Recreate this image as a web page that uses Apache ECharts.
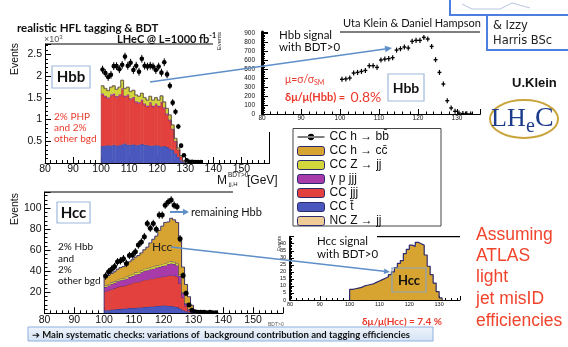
<!DOCTYPE html>
<html>
<head>
<meta charset="utf-8">
<script src="https://cdn.jsdelivr.net/npm/echarts@6/dist/echarts.min.js"></script>
<style>
html,body{margin:0;padding:0;background:#fff;}
#c{width:568px;height:347px;}
</style>
</head>
<body>
<div id="c"></div>
<script>
// ---------- Hbb selection: stacked backgrounds, 10^3 events per 1 GeV bin ----------
const BIN = 1;
const hbbBins   = [100.5,101.5,102.5,103.5,104.5,105.5,106.5,107.5,108.5,109.5,110.5,111.5,112.5,113.5,114.5,115.5,116.5,117.5,118.5,119.5,120.5,121.5,122.5,123.5,124.5,125.5,126.5,127.5,128.5,129.5];
const hbbCCt    = [0.39,0.40,0.41,0.40,0.42,0.40,0.41,0.43,0.45,0.42,0.42,0.43,0.41,0.42,0.44,0.42,0.41,0.40,0.40,0.41,0.40,0.38,0.39,0.37,0.33,0.30,0.22,0.14,0.06,0.02];
const hbbCCjjj  = [1.18,1.12,1.07,1.15,1.15,1.11,1.14,1.26,1.07,1.13,1.04,1.06,0.98,0.95,0.99,0.92,0.88,0.97,0.89,0.93,0.89,1.00,0.86,0.74,0.64,0.47,0.27,0.16,0.08,0.02];
const hbbGpjjj  = [0.03,0.03,0.03,0.03,0.03,0.03,0.03,0.03,0.03,0.03,0.03,0.03,0.03,0.03,0.03,0.03,0.03,0.03,0.03,0.03,0.03,0.03,0.03,0.03,0.03,0.02,0.02,0.01,0.01,0];
const hbbZjj    = [0.17,0.16,0.15,0.16,0.17,0.15,0.16,0.18,0.16,0.16,0.15,0.15,0.14,0.13,0.14,0.13,0.12,0.13,0.12,0.13,0.12,0.13,0.12,0.11,0.10,0.08,0.05,0.03,0.02,0.01];
const hbbHcc    = [0.01,0.01,0.01,0.01,0.01,0.01,0.01,0.01,0.01,0.01,0.01,0.01,0.01,0.01,0.01,0.01,0.01,0.01,0.01,0.01,0.01,0.01,0.01,0.01,0.01,0.01,0.01,0.01,0,0];
// points (CC h -> bb marker) with error half-widths
const hbbPtBins = [100.5,101.5,102.5,103.5,104.5,105.5,106.5,107.5,108.5,109.5,110.5,111.5,112.5,113.5,114.5,115.5,116.5,117.5,118.5,119.5,120.5,121.5,122.5,123.5,124.5,125.5,126.5,127.5,128.5,129.5,130.5,131.5,132.5,133.5,134.5,135.5];
const hbbPts    = [2.15,2.07,1.98,2.03,2.23,2.23,2.16,2.26,2.45,2.24,2.31,2.14,2.24,2.10,2.40,2.24,2.22,2.24,2.22,2.14,2.22,2.08,2.32,2.04,1.78,1.39,1.18,0.84,0.40,0.18,0.06,0.03,0.03,0.02,0.02,0.02];
const hbbPtErr  = [0.09,0.09,0.09,0.09,0.09,0.09,0.09,0.09,0.09,0.09,0.09,0.09,0.09,0.09,0.09,0.09,0.09,0.09,0.09,0.09,0.09,0.09,0.09,0.09,0.08,0.08,0.07,0.06,0.05,0.04,0.02,0.01,0.01,0.01,0.01,0.01];

// ---------- Hbb signal with BDT>0 (events per 1 GeV bin) ----------
const hbbSigBins = [100.5,101.5,102.5,103.5,104.5,105.5,106.5,107.5,108.5,109.5,110.5,111.5,112.5,113.5,114.5,115.5,116.5,117.5,118.5,119.5,120.5,121.5,122.5,123.5,124.5,125.5,126.5,127.5,128.5,129.5,130.5,131.5,132.5,133.5];
const hbbSig     = [385,390,400,455,462,473,484,537,537,518,600,610,615,626,710,725,744,733,807,818,818,851,833,751,603,462,333,148,67,30,10,5,2,1];
const hbbSigErr  = 28;

// ---------- Hcc selection: stacked components, events per 1 GeV bin ----------
const hccBins   = [100.5,101.5,102.5,103.5,104.5,105.5,106.5,107.5,108.5,109.5,110.5,111.5,112.5,113.5,114.5,115.5,116.5,117.5,118.5,119.5,120.5,121.5,122.5,123.5,124.5,125.5,126.5,127.5,128.5,129.5,130.5];
const hccCCt    = [3,3,3.5,3.5,4,4,4.5,4.5,5,5,5,5.5,5.5,6,6,6.5,6.5,7,7,7.5,7.5,7,7,6.5,6,4.5,3,2,1,0.5,0];
const hccCCjjj  = [18,19,19.5,20.5,21,22,21.5,22.5,23,24,25,24.5,25.5,26,26,26.5,26.5,27,27,27.5,27.5,29,29,29.5,29,24,12,5,1.5,0.5,0];
const hccGpjjj  = [4,4.5,5,5,5.5,5.5,6,6,6.5,6.5,7,7.5,8,8.5,9,9,9.5,9.5,10,10,10.5,11,11.5,11,10.5,7,4,2,1,0.5,0];
const hccZjj    = [1.5,1.5,1.5,1.5,1.5,1.5,1.5,2,2,2,2,2,2,2,2,2,2,2,2,2,2,2,2,2,2,1.5,1,0.5,0.3,0.2,0];
// CC h -> cc signal: drawn in the stack and again on its own
const hccSig    = [7.5,8,8.5,9,10,10.5,11,11.5,12.5,13.5,14.5,15.5,16.5,18,20,23,26,28,33,36,39,38,41,40,39,32,24,18,12,6,1.5];
const hccEdges  = [100,101,102,103,104,105,106,107,108,109,110,111,112,113,114,115,116,117,118,119,120,121,122,123,124,125,126,127,128,129,130,131];
const hccPtBins = [100.5,101.5,102.5,103.5,104.5,105.5,106.5,107.5,108.5,109.5,110.5,111.5,112.5,113.5,114.5,115.5,116.5,117.5,118.5,119.5,120.5,121.5,122.5,123.5,124.5,125.5,126.5,127.5,128.5,129.5,130.5,131.5,132.5,133.5,134.5,135.5,136.5,137.5];
const hccPts    = [35.5,39.5,42,44.5,49,50,52,47.5,55,55.5,58.5,65,68,73,85.5,81,85.5,80,93.5,93.5,103,106,108,103,101.5,71,36,19,8,3,1.5,1,1,1,0.5,1,0.5,0.5];
const hccPtErr  = [3.5,3.5,3.5,3.5,3.5,3.5,3.5,3.5,3.5,3.5,3.5,3.5,3.5,3.5,3.5,3.5,3.5,3.5,3.5,3.5,3.5,3.5,3.5,3.5,3.5,3.5,3,2.5,2,1.5,1,1,1,1,1,1,1,1];

// axis tick labels
const hbbYTicks = ['0.5','1','1.5','2','2.5'];

// legend entries
const L_BB  = 'CC h \u2192 bb\u0304';
const L_CC  = 'CC h \u2192 cc\u0304';
const L_ZJJ = 'CC Z \u2192 jj';
const L_GP  = '\u03b3 p jjj';
const L_JJJ = 'CC jjj';
const L_T   = 'CC t\u0304';
const L_NCZ = 'NC Z \u2192 jj';

const SANS  = '"Liberation Sans", Arial, sans-serif';
const SLIDE = 'Lato, "Open Sans", "DejaVu Sans", sans-serif';
const HAND  = '"DejaVu Sans", sans-serif';
const RED   = '#ea3a2c';
const LINK  = '#5f8fc8';

const C_BLUE = '#4a58bd', C_RED = '#e2413d', C_PURP = '#a83aaa', C_YEL = '#d3d63a', C_ORG = '#d8a431', C_TAN = '#efcb95';
const EDGE = '#2c2a6c';

const triples = (xs, ys, es) => xs.map((x, i) => [x, ys[i], es[i]]);

// stack the layers bin by bin: each item is [low edge, high edge, base, top, top of previous bin]
function stackLayers(bins, layers) {
  const base = bins.map(() => 0);
  return layers.map(vals => {
    const out = bins.map((c, i) => [c - BIN / 2, c + BIN / 2, base[i], base[i] + vals[i]]);
    out.forEach((d, i) => { d.push(i > 0 ? out[i - 1][3] : d[2]); base[i] = d[3]; });
    return out;
  });
}

function xAxisDef(grid, min, max, fs, tickLen) {
  return {
    gridIndex: grid, type: 'value', min, max, interval: 10,
    axisLine: { lineStyle: { color: '#000', width: 1 } },
    axisTick: { inside: true, length: tickLen, lineStyle: { color: '#000', width: 1 } },
    minorTick: { show: true, splitNumber: 5, length: tickLen / 2, lineStyle: { color: '#000', width: 1 } },
    splitLine: { show: false }, minorSplitLine: { show: false },
    axisLabel: {
      fontSize: fs, color: '#111', margin: 1, fontFamily: SANS,
      showMaxLabel: false,
      formatter: v => (v % 10 === 0 ? String(v) : '')
    }
  };
}
function yAxisDef(grid, max, interval, fs, tickLen, lw, margin, showZero, fmt) {
  return {
    gridIndex: grid, type: 'value', min: 0, max, interval,
    axisLine: { lineStyle: { color: '#000', width: lw } },
    axisTick: { inside: true, length: tickLen, lineStyle: { color: '#000', width: 1 } },
    minorTick: { show: true, splitNumber: 5, length: tickLen / 2, lineStyle: { color: '#000', width: 1 } },
    splitLine: { show: false }, minorSplitLine: { show: false },
    axisLabel: {
      fontSize: fs, color: '#111', margin, fontFamily: SANS,
      showMaxLabel: false,
      formatter: fmt || (v => {
        const k = v / interval;
        if (Math.abs(k - Math.round(k)) > 1e-6) return '';
        if (v === 0 && !showZero) return '';
        return String(v);
      })
    }
  };
}

// one filled histogram layer with a step outline along its top
function layerSeries(name, xi, data, color, edge, ew) {
  return {
    name, type: 'custom', xAxisIndex: xi, yAxisIndex: xi, clip: true, z: 2,
    itemStyle: { color },
    data,
    renderItem: (params, api) => {
      const lo = api.value(0), hi = api.value(1), b = api.value(2), t = api.value(3), pt = api.value(4);
      const a = api.coord([lo, t]), c = api.coord([hi, b]), q = api.coord([lo, pt]);
      const kids = [];
      if (t > b) {
        kids.push({ type: 'rect', shape: { x: a[0], y: a[1], width: c[0] - a[0] + 0.5, height: c[1] - a[1] }, style: { fill: color } });
      }
      kids.push({ type: 'polyline', shape: { points: [[a[0], q[1]], [a[0], a[1]], [c[0], a[1]]] },
        style: { stroke: edge, lineWidth: ew, fill: 'none' } });
      return { type: 'group', children: kids };
    }
  };
}

function dotSeries(name, xi, data, r, lw) {
  return {
    name, type: 'custom', xAxisIndex: xi, yAxisIndex: xi, clip: true,
    itemStyle: { color: '#000' }, z: 5,
    data,
    renderItem: (params, api) => {
      const x = api.value(0), y = api.value(1), e = api.value(2);
      const p = api.coord([x, y]);
      const lo = api.coord([x, Math.max(0, y - e)]);
      const hi = api.coord([x, y + e]);
      return {
        type: 'group', children: [
          { type: 'line', shape: { x1: p[0], y1: lo[1], x2: p[0], y2: hi[1] }, style: { stroke: '#000', lineWidth: lw } },
          { type: 'circle', shape: { cx: p[0], cy: p[1], r }, style: { fill: '#000' } }
        ]
      };
    }
  };
}

// ---------- decorations ----------
function txt(x, y, text, font, fill, st, el) {
  return Object.assign({ type: 'text', x, y, z: 50, silent: true,
    style: Object.assign({ text, font, fill, verticalAlign: 'middle', align: 'left' }, st || {}) }, el || {});
}
function seg(x1, y1, x2, y2, stroke, lw, z) {
  return { type: 'line', silent: true, z: z || 40, shape: { x1, y1, x2, y2 }, style: { stroke, lineWidth: lw } };
}
function box(x, y, w, h, stroke, lw, fill, z) {
  return { type: 'rect', silent: true, z: z || 40, shape: { x, y, width: w, height: h }, style: { stroke, lineWidth: lw, fill: fill || 'none' } };
}
function arrow(x1, y1, x2, y2, color, w, hl, hw) {
  const dx = x2 - x1, dy = y2 - y1, L = Math.hypot(dx, dy), ux = dx / L, uy = dy / L;
  const bx = x2 - ux * hl, by = y2 - uy * hl;
  return [
    seg(x1, y1, bx, by, color, w, 45),
    { type: 'polygon', silent: true, z: 45, shape: { points: [[x2, y2], [bx - uy * hw, by + ux * hw], [bx + uy * hw, by - ux * hw]] }, style: { fill: color } }
  ];
}

const graphics = [
  // Hbb selection panel
  txt(17, 28, 'realistic HFL tagging & BDT', 'bold 11.5px ' + SLIDE, '#111'),
  txt(117, 39, '{a|LHeC @ L=1000 fb}{s|-1}', 'bold 11px ' + SLIDE, '#111',
      { rich: { a: { font: 'bold 11px ' + SLIDE, fill: '#111' }, s: { font: 'bold 7px ' + SLIDE, fill: '#111', padding: [0, 0, 6, 0] } } }),
  txt(44, 40, '{a|\u00d710}{s|3}', '9px ' + SANS, '#555',
      { rich: { a: { font: '9px ' + SANS, fill: '#555' }, s: { font: '6px ' + SANS, fill: '#555', padding: [0, 0, 5, 0] } } }),
  seg(45, 44, 213, 44, '#000', 1),
  seg(269.5, 132, 269.5, 163, '#000', 1),
  txt(15.5, 43, 'Events', '10.5px ' + SANS, '#111', { align: 'right' }, { rotation: Math.PI / 2 }),
  box(52, 66, 38, 22, '#9fbadb', 1.2),
  txt(71, 77.5, 'Hbb', 'bold 15px ' + SLIDE, '#111', { align: 'center' }),
  txt(54, 117, '2% PHP', '10px ' + SLIDE, RED),
  txt(54, 128, 'and 2%', '10px ' + SLIDE, RED),
  txt(54, 139, 'other bgd', '10px ' + SLIDE, RED),
  txt(217, 180.5, 'M', '12px ' + SANS, '#111'),
  txt(228, 175.5, 'BDT>0', '6.5px ' + SANS, '#111'),
  txt(229, 184.5, 'jj,H', '6px ' + SANS, '#111'),
  txt(247, 180.5, '[GeV]', '12px ' + SANS, '#111'),
  ...arrow(150, 82, 392, 48, LINK, 1.6, 7, 3.2),

  // Hbb signal panel
  txt(343, 23, 'Uta Klein & Daniel Hampson', '11px ' + SLIDE, '#111'),
  seg(340, 32, 480, 32, '#000', 1.2),
  txt(219, 32, 'Events', '6px ' + SANS, '#222', { align: 'right' }, { rotation: Math.PI / 2 }),
  txt(279, 35, 'Hbb signal', '11.5px ' + SLIDE, '#111'),
  txt(279, 47.5, 'with BDT>0', '11.5px ' + SLIDE, '#111'),
  txt(285, 80, '{a|\u03bc=\u03c3/\u03c3}{s|SM}', '10.5px ' + SLIDE, RED,
      { rich: { a: { font: '10.5px ' + SLIDE, fill: RED }, s: { font: '7px ' + SLIDE, fill: RED, padding: [5, 0, 0, 0] } } }),
  txt(285, 97, '{a|\u03b4\u03bc/\u03bc(Hbb) =  }{b|0.8%}', '11px ' + SLIDE, RED,
      { rich: { a: { font: 'bold 11px ' + SLIDE, fill: RED }, b: { font: '14px ' + SLIDE, fill: RED } } }),
  box(388, 74, 36, 27, '#9fbadb', 1.2),
  txt(406, 88, 'Hbb', 'bold 14px ' + SLIDE, '#111', { align: 'center' }),

  // author boxes and logo
  box(450, -3, 122, 18, '#4d7fe0', 2),
  { type: 'polyline', silent: true, z: 40, shape: { points: [[462, 4], [472, 9], [500, 9], [512, 3], [530, 8]] }, style: { stroke: '#b8c6e0', lineWidth: 1, fill: 'none' } },
  box(487, 15, 85, 35, '#4d7fe0', 2),
  txt(493, 26, '& Izzy', '11.5px ' + HAND, '#222'),
  txt(493, 41, 'Harris BSc', '11.5px ' + HAND, '#222'),
  txt(512, 83, 'U.Klein', 'bold 13px ' + SANS, '#111'),
  { type: 'ellipse', silent: true, z: 40, shape: { cx: 524, cy: 119, rx: 34, ry: 19 }, style: { stroke: '#c9a43a', lineWidth: 2, fill: 'none' } },
  txt(491, 119, 'LH', '26px "Liberation Serif", "DejaVu Serif", serif', '#1d3c8c'),
  txt(526, 127, 'e', '20px "Liberation Serif", "DejaVu Serif", serif', '#1d3c8c'),
  txt(535, 119, 'C', '28px "Liberation Serif", "DejaVu Serif", serif', '#1d3c8c'),

  // legend frame
  box(293, 128.5, 148, 97.5, '#444', 1, '#fff', 3),

  // Hcc selection panel
  seg(44.5, 192, 233, 192, '#000', 1),
  txt(15.5, 193, 'Events', '10.5px ' + SANS, '#111', { align: 'right' }, { rotation: Math.PI / 2 }),
  box(57, 202, 33, 21, '#9fbadb', 1.2),
  txt(73.5, 213, 'Hcc', 'bold 15px ' + SLIDE, '#111', { align: 'center' }),
  ...arrow(170, 212, 189, 212, LINK, 2, 6, 3.2),
  txt(191, 212, 'remaining Hbb', '11px ' + SLIDE, '#111'),
  txt(58, 247, '2% Hbb', '10px ' + SLIDE, '#111'),
  txt(58, 258.5, 'and', '10px ' + SLIDE, '#111'),
  txt(58, 270, '2%', '10px ' + SLIDE, '#111'),
  txt(58, 281, 'other bgd', '10px ' + SLIDE, '#111'),
  txt(152, 247, 'Hcc', '12px ' + SLIDE, '#222'),
  ...arrow(171, 247, 390, 272, LINK, 1.6, 6, 2.8),
  txt(268, 325, 'BDT>0', '5px ' + SANS, '#555'),

  // Hcc signal panel
  seg(377, 236.7, 460, 236.7, '#000', 1.2),
  txt(280, 236, 'Events', '5px ' + SANS, '#222', { align: 'right' }, { rotation: Math.PI / 2 }),
  txt(317, 241, 'Hcc signal', '11.5px ' + SLIDE, '#111'),
  txt(317, 254, 'with BDT>0', '11.5px ' + SLIDE, '#111'),
  box(392, 268, 34, 24, '#8aa3bd', 1.2),
  txt(409, 280.5, 'Hcc', 'bold 13px ' + SLIDE, '#111', { align: 'center' }),
  txt(362, 322, '\u03b4\u03bc/\u03bc(Hcc) = 7.4 %', 'bold 10px ' + SLIDE, RED),

  // right-hand note
  txt(476, 235, 'Assuming', '17.5px ' + SANS, '#f0442c'),
  txt(476, 256, 'ATLAS', '17.5px ' + SANS, '#f0442c'),
  txt(476, 277.5, 'light', '17.5px ' + SANS, '#f0442c'),
  txt(476, 299.5, 'jet misID', '17.5px ' + SANS, '#f0442c'),
  txt(476, 321.5, 'efficiencies', '17.5px ' + SANS, '#f0442c'),

  // bottom banner
  { type: 'rect', silent: true, z: 60, shape: { x: 28, y: 327, width: 405, height: 14 },
    style: { stroke: '#8fb0dd', lineWidth: 1,
      fill: new echarts.graphic.LinearGradient(0, 0, 0, 1, [{ offset: 0, color: '#eef4fb' }, { offset: 1, color: '#d4e3f5' }]) } },
  txt(32, 334.5, '\u2794 Main systematic checks: variations of  background contribution and tagging efficiencies', 'bold 9.5px ' + SLIDE, '#111', null, { z: 61 })
];

const hbbStack = stackLayers(hbbBins, [hbbCCt, hbbCCjjj, hbbGpjjj, hbbZjj, hbbHcc]);
const hccStack = stackLayers(hccBins, [hccCCt, hccCCjjj, hccGpjjj, hccZjj, hccSig]);

const hccSigLine = [[hccEdges[0], 0]]
  .concat(hccSig.map((v, i) => [hccEdges[i], v]))
  .concat([[hccEdges[hccEdges.length - 1], 0]]);

const option = {
  backgroundColor: '#fff',
  animation: false,
  grid: [
    { left: 45, top: 44, width: 224.5, height: 119 },
    { left: 44.5, top: 192, width: 238.4, height: 121.3 },
    { left: 262, top: 32, width: 218.4, height: 82 },
    { left: 290, top: 236.7, width: 170, height: 63.3 }
  ],
  xAxis: [
    xAxisDef(0, 80, 160, 10.5, 6),
    xAxisDef(1, 80, 160, 10.5, 6),
    xAxisDef(2, 80, 136, 6.5, 5),
    xAxisDef(3, 80, 137, 5.5, 4)
  ],
  yAxis: [
    yAxisDef(0, 2.74, 0.5, 10.5, 6, 1, 3, false, v => {
      const k = Math.round(v / 0.5);
      return (Math.abs(v / 0.5 - k) < 1e-6 && k >= 1 && k <= hbbYTicks.length) ? hbbYTicks[k - 1] : '';
    }),
    yAxisDef(1, 115.5, 20, 10.5, 6, 1, 3, false),
    yAxisDef(2, 911, 100, 6.5, 6, 3, 7, true),
    yAxisDef(3, 45, 5, 5.5, 4, 2, 4, true)
  ],
  legend: {
    left: 297, top: 131, orient: 'vertical', padding: 0, itemGap: 2,
    itemWidth: 27, itemHeight: 9, selectedMode: false, z: 20,
    textStyle: { fontSize: 12, fontFamily: SANS, color: '#111', lineHeight: 11.5 },
    itemStyle: { borderColor: EDGE, borderWidth: 1 },
    data: [
      { name: L_BB, icon: 'path://M0,3.9h30v1.2h-30z M11.5,4.5a3.5,3.5 0 1,0 7,0a3.5,3.5 0 1,0 -7,0z', itemStyle: { borderWidth: 0, color: '#000' } },
      L_CC, L_ZJJ, L_GP, L_JJJ, L_T, L_NCZ
    ]
  },
  series: [
    // Hbb selection
    layerSeries(L_T,   0, hbbStack[0], C_BLUE, '#2e367a', 0.6),
    layerSeries(L_JJJ, 0, hbbStack[1], C_RED,  '#9c2a2a', 0.5),
    layerSeries(L_GP,  0, hbbStack[2], C_PURP, '#6e2370', 0.6),
    layerSeries(L_ZJJ, 0, hbbStack[3], C_YEL,  '#6c6d1c', 0.6),
    layerSeries(L_CC,  0, hbbStack[4], C_ORG,  '#4a3a60', 0.6),
    dotSeries(L_BB, 0, triples(hbbPtBins, hbbPts, hbbPtErr), 2.3, 1),

    // Hcc selection
    layerSeries(L_T,   1, hccStack[0], C_BLUE, EDGE, 0.8),
    layerSeries(L_JJJ, 1, hccStack[1], C_RED,  EDGE, 0.8),
    layerSeries(L_GP,  1, hccStack[2], C_PURP, EDGE, 0.8),
    layerSeries(L_ZJJ, 1, hccStack[3], C_YEL,  EDGE, 0.8),
    layerSeries(L_CC,  1, hccStack[4], C_ORG,  EDGE, 0.9),
    layerSeries(L_NCZ, 1, [],          C_TAN,  EDGE, 0.8),
    dotSeries(L_BB, 1, triples(hccPtBins, hccPts, hccPtErr), 2.5, 1),

    // Hbb signal alone
    {
      name: 'Hbb signal', type: 'custom', xAxisIndex: 2, yAxisIndex: 2, clip: true, z: 5,
      data: hbbSigBins.map((x, i) => [x, hbbSig[i], hbbSigErr]),
      renderItem: (params, api) => {
        const x = api.value(0), y = api.value(1), e = api.value(2);
        const p = api.coord([x, y]);
        const l = api.coord([x - BIN / 2, y]), r = api.coord([x + BIN / 2, y]);
        const lo = api.coord([x, Math.max(0, y - e)]), hi = api.coord([x, y + e]);
        return {
          type: 'group', children: [
            { type: 'line', shape: { x1: l[0], y1: p[1], x2: r[0], y2: p[1] }, style: { stroke: '#000', lineWidth: 1.4 } },
            { type: 'line', shape: { x1: p[0], y1: lo[1], x2: p[0], y2: hi[1] }, style: { stroke: '#000', lineWidth: 1.2 } }
          ]
        };
      }
    },

    // Hcc signal alone
    {
      name: 'Hcc signal', type: 'line', xAxisIndex: 3, yAxisIndex: 3, step: 'end',
      symbol: 'none', z: 5, data: hccSigLine,
      lineStyle: { color: EDGE, width: 1.2 },
      areaStyle: { color: C_ORG, opacity: 1 }
    }
  ],
  graphic: { elements: graphics }
};

const chart = echarts.init(document.getElementById('c'), null, { renderer: 'canvas', width: 568, height: 347 });
chart.setOption(option);
</script>
</body>
</html>
